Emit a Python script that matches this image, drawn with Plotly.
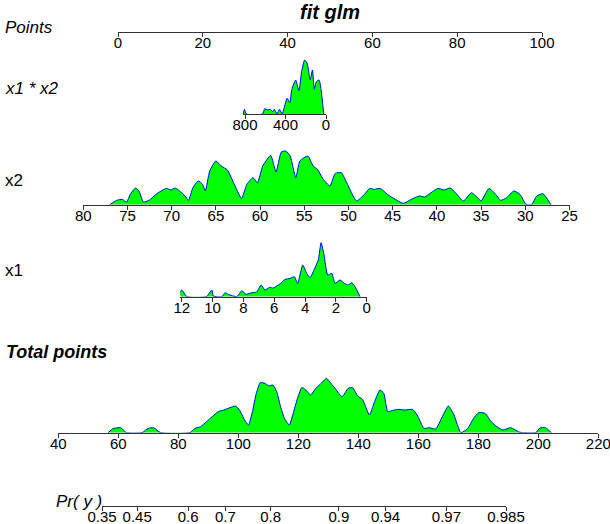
import math
import plotly.graph_objects as go

W, H = 610, 524
FONT = "Liberation Sans, Arial, sans-serif"

# ---------------- data ----------------
title_text = "fit glm"
row_labels = ["Points", "x1 * x2", "x2", "x1", "Total points", "Pr( y )"]

points_ticks = [0, 20, 40, 60, 80, 100]
x1x2_ticks = [800, 400, 0]
x2_ticks = [80, 75, 70, 65, 60, 55, 50, 45, 40, 35, 30, 25]
x1_ticks = [12, 10, 8, 6, 4, 2, 0]
total_ticks = [40, 60, 80, 100, 120, 140, 160, 180, 200, 220]
pr_ticks = [0.35, 0.45, 0.6, 0.7, 0.8, 0.9, 0.94, 0.97, 0.985]
pr_labels = ["0.35", "0.45", "0.6", "0.7", "0.8", "0.9", "0.94", "0.97", "0.985"]

# density curves (value, relative height)
x1x2_vals = [817, 806, 787, 626, 606, 576, 549, 529, 511, 484, 460, 433, 415, 384, 357,
             338, 299, 268, 241, 211, 184, 157, 134, 115, 96, 68, 49, 22]
x1x2_dens = [0, 4.7, 0, 0, 5.3, 4, 4.7, 2.3, 4.7, 0, 4.7, 0, 5.7, 15.7, 11.3,
             24.7, 34, 23.3, 42.3, 54, 50, 34, 44, 24.7, 32.3, 34, 24.7, 0]

x2_vals = [77.0, 76.25, 75.6, 75.1, 74.7, 74.1, 73.7, 73.2, 72.5, 71.8, 71.2, 70.6, 70.1,
           69.6, 69.1, 68.5, 68.1, 67.6, 67.0, 66.5, 66.2, 65.7, 65.0, 64.4, 63.7, 63.0,
           62.1, 61.5, 60.8, 60.3, 59.7, 58.8, 58.2, 57.6, 57.1, 56.6, 55.96, 55.5, 54.6,
           54.0, 53.5, 52.9, 52.1, 51.5, 50.8, 50.2, 49.1, 48.2, 47.6, 47.1, 46.4, 45.6,
           44.5, 43.8, 42.9, 42.0, 41.4, 40.5, 39.9, 39.2, 38.5, 37.9, 37.0, 36.1, 35.4,
           35.0, 34.1, 33.2, 32.8, 32.1, 31.3, 30.6, 29.9, 29.3, 28.7, 28.0, 27.1]
x2_dens = [0, 4.3, 5.3, 2.7, 10.3, 16.7, 13.7, 2.7, 4.7, 10.3, 13.7, 16.3, 14.7,
           16.7, 13.7, 8.7, 4.3, 17, 23.7, 20.3, 13.7, 33.7, 43.7, 38.7, 34.7, 22,
           6.3, 20.3, 27, 22, 38.7, 49.3, 32.7, 52.7, 53.7, 48.7, 27, 43.7, 48.7,
           38.7, 35.3, 26, 18.7, 31.3, 32, 22, 3.7, 10.3, 16.3, 15.3, 16.3, 10.3,
           4.3, 1.3, 5.3, 8.7, 7.7, 13, 16.3, 14.7, 16.7, 12, 3.7, 12, 7,
           3.7, 16.3, 8.7, 4.3, 7, 13.7, 10.3, 0, 0, 8.7, 11, 0]

x1_vals = [12.28, 12.0, 11.67, 10.4, 10.05, 9.95, 9.4, 9.19, 8.97, 8.43, 8.1, 7.83, 7.46,
           7.14, 6.85, 6.6, 6.31, 6.05, 5.84, 5.58, 5.3, 4.97, 4.7, 4.48, 4.15, 3.89,
           3.68, 3.42, 3.14, 2.96, 2.77, 2.53, 2.27, 2.05, 1.73, 1.45, 1.19, 0.97, 0.76, 0.43]
x1_dens = [0, 6.7, 0, 0, 6.7, 0.7, 0, 4, 2.3, 0, 6, 2.3, 4,
           4.7, 11.7, 6.7, 9.3, 8.7, 10.7, 13.3, 17.3, 18.3, 20, 13.3, 31.7, 23.3,
           19, 26.7, 36.7, 54, 41.7, 21.7, 23.3, 13.3, 16.7, 13.3, 11.7, 14, 10, 0]

total_vals = [56.6, 58.2, 60.8, 62.7, 67.9, 69.9, 71.8, 74.1, 83.9, 85.5, 87.4, 89.4, 91.3,
              93.3, 95.2, 97.2, 99.1, 100.4, 102.1, 103.4, 104.7, 106.0, 107.3, 108.9,
              110.2, 111.5, 112.8, 114.1, 115.4, 117.0, 118.6, 119.9, 121.2, 122.5, 124.1,
              125.8, 127.3, 129.4, 130.9, 132.5, 134.6, 136.6, 138.1, 139.8, 141.4, 143.7,
              145.3, 147.2, 148.5, 149.8, 151.1, 153.1, 155.7, 158.1, 159.6, 161.9, 163.5,
              165.8, 168.0, 170.0, 171.9, 174.2, 176.5, 178.4, 180.1, 182.3, 184.3, 186.2,
              188.2, 190.8, 193.4, 194.7, 199.2, 200.5, 202.4, 204.4]
total_dens = [0, 4, 5, 0, 0, 4.3, 5, 0, 0, 4.3, 6, 11, 16,
              21, 22.7, 25, 26.7, 22.7, 12.7, 7.7, 21, 39.3, 50, 49.3,
              46.7, 47.7, 41, 26, 14.3, 7.7, 22.7, 36, 45.3, 42.7, 37.7,
              44.3, 48.3, 54.3, 49.3, 43.3, 36, 44.3, 45, 36.7, 33.3, 17.7,
              30, 42.7, 39.3, 21, 22, 23.3, 22.7, 23.3, 17.7, 4.3, 5,
              3.7, 16, 26.7, 17.7, 0, 4.3, 14.3, 20, 19.3, 11, 6,
              2.7, 5, 1, 0, 0, 4.7, 5, 0]

# ---------------- layout helpers ----------------
def fx(px):
    return px / W

def fy(py):
    return 1 - py / H

def logit(p):
    return math.log(p / (1 - p))

rows = [
    dict(rng=[0, 100], l=118, r=542, y=32, ticks=points_ticks, text=None, vals=None, dens=None),
    dict(rng=[820, 0], l=243.0, r=326, y=114, ticks=x1x2_ticks, text=None, vals=x1x2_vals, dens=x1x2_dens),
    dict(rng=[80, 25], l=83.3, r=569.5, y=204.7, ticks=x2_ticks, text=None, vals=x2_vals, dens=x2_dens),
    dict(rng=[12.1, 0], l=180.2, r=366.7, y=296.7, ticks=x1_ticks, text=None, vals=x1_vals, dens=x1_dens),
    dict(rng=[40, 220], l=58.3, r=598.3, y=432.7, ticks=total_ticks, text=None, vals=total_vals, dens=total_dens),
    dict(rng=[logit(0.35), logit(0.985)], l=102, r=506, y=505.7,
         ticks=[logit(p) for p in pr_ticks], text=pr_labels, vals=None, dens=None),
]

fig = go.Figure()
layout = dict(width=W, height=H, autosize=False, margin=dict(l=0, r=0, t=0, b=0, pad=0, autoexpand=False),
              paper_bgcolor="white", plot_bgcolor="rgba(0,0,0,0)", showlegend=False,
              font=dict(family=FONT, color="black"))

DH = 58  # pixel height of each density panel
for i, row in enumerate(rows):
    n = "" if i == 0 else str(i + 1)
    xa, ya = "xaxis" + n, "yaxis" + n
    xr, yr = "x" + n, "y" + n
    base = fy(row["y"])
    top = min(1.0, base + DH / H)
    layout[xa] = dict(domain=[fx(row["l"]), fx(row["r"])], range=row["rng"], anchor=yr,
                      automargin=False, ticklabeloverflow="allow", ticklabelstandoff=-7,
                      showline=True, linecolor="#333", linewidth=1, ticks="outside",
                      ticklen=4, tickwidth=1, tickcolor="#333", showgrid=False, zeroline=False,
                      tickmode="array", tickvals=row["ticks"],
                      ticktext=row["text"] if row["text"] else [str(t) for t in row["ticks"]],
                      tickfont=dict(family=FONT, size=15, color="black"), fixedrange=True)
    layout[ya] = dict(domain=[base, top], range=[0, DH], anchor=xr, automargin=False,
                      visible=False, showgrid=False, zeroline=False, fixedrange=True)
    if row["vals"] is not None:
        fig.add_trace(go.Scatter(x=row["vals"], y=row["dens"], xaxis=xr, yaxis=yr,
                                 mode="lines", fill="tozeroy", fillcolor="#00FF00",
                                 line=dict(color="#0000FF", width=1, shape="spline", smoothing=0.5),
                                 hoverinfo="skip"))
    else:
        fig.add_trace(go.Scatter(x=[None], y=[None], xaxis=xr, yaxis=yr, mode="lines",
                                 hoverinfo="skip"))

label_pos = [
    dict(x=3, y=27, style="italic", weight="normal", size=17),
    dict(x=3, y=88, style="italic", weight="normal", size=17),
    dict(x=3, y=180, style="normal", weight="normal", size=17),
    dict(x=3, y=270, style="normal", weight="normal", size=17),
    dict(x=4, y=352, style="italic", weight="bold", size=18),
]
annotations = []
for lab, p in zip(row_labels[:5], label_pos):
    annotations.append(dict(text=lab, x=fx(p["x"]), y=fy(p["y"]), xref="paper", yref="paper",
                            xanchor="left", yanchor="middle", showarrow=False,
                            font=dict(family=FONT, size=p["size"], style=p["style"],
                                      weight=p["weight"], color="black")))
annotations.append(dict(text=row_labels[5], x=fx(104), y=fy(501), xref="paper", yref="paper",
                        xanchor="right", yanchor="middle", showarrow=False,
                        font=dict(family=FONT, size=17, style="italic", color="black")))
annotations.append(dict(text=title_text, x=fx(330), y=fy(12), xref="paper", yref="paper",
                        xanchor="center", yanchor="middle", showarrow=False,
                        font=dict(family=FONT, size=20, style="italic", weight="bold", color="black")))
layout["annotations"] = annotations

fig.update_layout(**layout)
fig.write_html("out.html")
